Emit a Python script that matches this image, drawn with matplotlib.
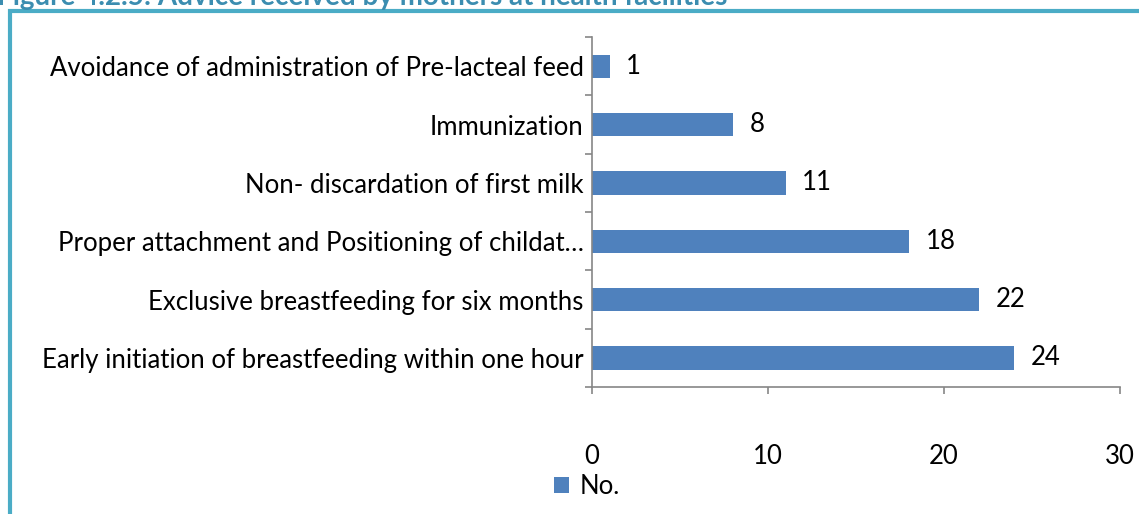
import matplotlib
matplotlib.use("Agg")
import matplotlib.pyplot as plt
from matplotlib.patches import Rectangle

plt.rcParams['font.family'] = ['Lato', 'DejaVu Sans']

categories = [
    "Early initiation of breastfeeding within one hour",
    "Exclusive breastfeeding for six months",
    "Proper attachment and Positioning of childat\u2026",
    "Non- discardation of first milk",
    "Immunization",
    "Avoidance of administration of Pre-lacteal feed",
]
counts = [24, 22, 18, 11, 8, 1]
x_ticks = [0, 10, 20, 30]
series_name = "No."
title = "Figure 4.2.5: Advice received by mothers at health facilities"

bar_color = "#4f81bd"
axis_color = "#868686"
frame_color = "#4bacc6"
fs = 18.5

fig = plt.figure(figsize=(11.39, 5.14), dpi=100)
ax = fig.add_axes([0.5198, 0.247, 0.4635, 0.681])

pos = range(len(categories))
bars = ax.barh(pos, counts, height=0.4, color=bar_color, label=series_name)

for rect, v in zip(bars, counts):
    ax.annotate(str(v), (v, rect.get_y() + rect.get_height() / 2),
                xytext=(12, 0), textcoords="offset points",
                va="center", ha="left", fontsize=fs)

ax.set_xlim(0, 30)
ax.set_ylim(-0.5, len(categories) - 0.5)
ax.set_xticks(x_ticks)
ax.set_yticks(list(pos))
ax.set_yticklabels(categories)
ax.set_yticks([p - 0.5 for p in range(len(categories) + 1)], minor=True)

for s in ["top", "right"]:
    ax.spines[s].set_visible(False)
for s in ["left", "bottom"]:
    ax.spines[s].set_color(axis_color)
    ax.spines[s].set_linewidth(1.2)

ax.tick_params(axis="y", which="major", length=0, pad=6, labelsize=fs)
ax.tick_params(axis="y", which="minor", length=5, color=axis_color, width=1.2)
ax.tick_params(axis="x", length=5, color=axis_color, width=1.2, pad=36, labelsize=fs)

leg = fig.legend(handles=[bars], labels=[series_name], loc="center",
                 bbox_to_anchor=(0.515, 0.054), frameon=False, fontsize=fs,
                 handlelength=0.6, handleheight=0.6, handletextpad=0.4)

# frame around the figure, running off the right and bottom edges
fig.patches.append(Rectangle((9.5 / 1139, -0.1), 1.2, 1 - 10.5 / 514 + 0.1,
                             transform=fig.transFigure, fill=False,
                             edgecolor=frame_color, linewidth=3))

fig.text(-0.003, 1 - 5 / 514, title, fontsize=20, fontweight="bold",
         color="#3b8db0", ha="left", va="baseline")

fig.savefig("out.png", dpi=100)
